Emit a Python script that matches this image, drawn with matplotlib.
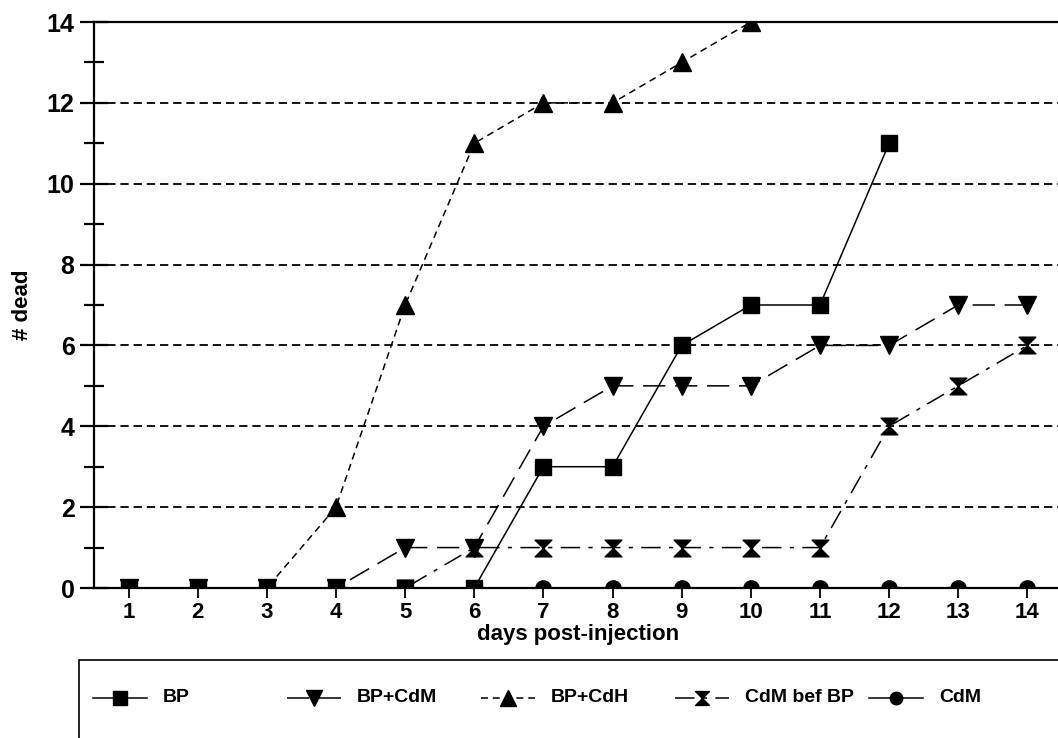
import matplotlib
matplotlib.use("Agg")
import matplotlib.pyplot as plt
from matplotlib.lines import Line2D
from matplotlib.patches import Rectangle
from matplotlib.path import Path

plt.rcParams['font.family'] = ['Liberation Sans', 'DejaVu Sans']
plt.rcParams['font.weight'] = 'bold'
plt.rcParams['lines.scale_dashes'] = False

# Cumulative deaths per day after injection
days = list(range(1, 15))
bp = [0, 0, 0, 0, 0, 0, 3, 3, 6, 7, 7, 11]
bp_cdm = [0, 0, 0, 0, 1, 1, 4, 5, 5, 5, 6, 6, 7, 7]
bp_cdh = [0, 0, 0, 2, 7, 11, 12, 12, 13, 14]
cdm_bef_bp = [0, 0, 0, 0, 0, 1, 1, 1, 1, 1, 1, 4, 5, 6]
cdm = [0, 0, 0, 0, 0, 0, 0, 0, 0, 0, 0, 0, 0, 0]

labels = ["BP", "BP+CdM", "BP+CdH", "CdM bef BP", "CdM"]
y_ticks = [0, 2, 4, 6, 8, 10, 12, 14]

# hourglass marker: two triangles meeting at the centre
hourglass = Path(
    [(-1, 1), (1, 1), (0, 0), (-1, 1), (-1, -1), (1, -1), (0, 0), (-1, -1)],
    [Path.MOVETO, Path.LINETO, Path.LINETO, Path.CLOSEPOLY,
     Path.MOVETO, Path.LINETO, Path.LINETO, Path.CLOSEPOLY])

styles = {
    "BP": dict(ls='-', marker='s', ms=12),
    "BP+CdM": dict(ls=(0, (16, 7)), marker='v', ms=13),
    "BP+CdH": dict(ls=(0, (5, 3.5)), marker='^', ms=13),
    "CdM bef BP": dict(ls=(0, (14, 6, 3, 6)), marker=hourglass, ms=12),
    "CdM": dict(ls='-', marker='o', ms=11),
}
series = {
    "BP": (days[:len(bp)], bp),
    "BP+CdM": (days, bp_cdm),
    "BP+CdH": (days[:len(bp_cdh)], bp_cdh),
    "CdM bef BP": (days, cdm_bef_bp),
    "CdM": (days, cdm),
}
zorders = {"CdM": 3, "CdM bef BP": 4, "BP+CdH": 5, "BP+CdM": 6, "BP": 7}

W, H = 1058, 738
fig = plt.figure(figsize=(W / 100, H / 100), dpi=100)
ax = fig.add_axes([94 / W, (H - 588) / H, (1062 - 94) / W, (588 - 22) / H])

for name in labels:
    x, y = series[name]
    st = styles[name]
    ax.plot(x, y, color='black', lw=1.1, linestyle=st['ls'], marker=st['marker'],
            ms=st['ms'], mfc='black', mec='black', zorder=zorders[name])

ax.set_xlim(0.5, 14.5)
ax.set_ylim(0, 14)
ax.set_xticks(days)
ax.set_yticks(y_ticks)
ax.set_yticks([1, 3, 5, 7, 9, 11, 13], minor=True)

for yv in y_ticks[1:-1]:
    ax.axhline(yv, color='black', lw=1.3, linestyle=(0, (6, 3.5)), zorder=1)

for side in ['left', 'top', 'bottom']:
    ax.spines[side].set_linewidth(1.6)
ax.spines['right'].set_visible(False)

ax.tick_params(axis='y', which='major', direction='inout', length=20, width=1.6,
               labelsize=18, pad=4)
ax.tick_params(axis='y', which='minor', direction='inout', length=14, width=1.6)
ax.tick_params(axis='x', which='major', direction='out', length=7, width=1.3,
               labelsize=16, pad=3)
for lab in ax.get_xticklabels() + ax.get_yticklabels():
    lab.set_fontweight('bold')

ax.set_xlabel("days post-injection", fontsize=16, fontweight='bold', labelpad=1)
ax.set_ylabel("# dead", fontsize=16, fontweight='bold', labelpad=10)

# legend panel below the axes
def fx(px):
    return px / W

def fy(py):
    return 1 - py / H

fig.add_artist(Rectangle((fx(79), fy(745)), fx(1000), fy(660) - fy(745),
                         transform=fig.transFigure, fill=False,
                         edgecolor='black', lw=1.2))
for i, name in enumerate(labels):
    x0 = 93 + i * 194
    st = styles[name]
    fig.add_artist(Line2D([fx(x0), fx(x0 + 54)], [fy(698), fy(698)],
                          transform=fig.transFigure, color='black', lw=1.1,
                          linestyle=st['ls']))
    fig.add_artist(Line2D([fx(x0 + 27)], [fy(698)], transform=fig.transFigure,
                          marker=st['marker'], ms=st['ms'] - 2, color='black',
                          mfc='black', mec='black', linestyle='none'))
    fig.text(fx(x0 + 70), fy(698), name, fontsize=14, fontweight='bold',
             va='center', ha='left')

fig.savefig("out.png", dpi=100)
